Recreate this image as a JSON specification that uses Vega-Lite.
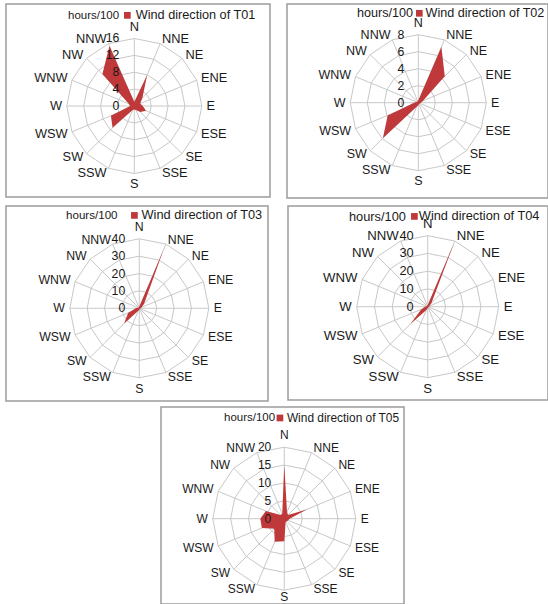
{
"$schema":"https://vega.github.io/schema/vega-lite/v6.json",
"padding":{"left":5,"top":3,"right":0,"bottom":0},
"config":{"font":"Liberation Sans","view":{"stroke":"#9c9c9c","strokeWidth":1.5},"text":{"color":"#1a1a1a","fontSize":12.5},
"legend":{"symbolType":"square","symbolSize":45,"padding":0,"labelColor":"#1a1a1a","titleColor":"#1a1a1a","titleFontWeight":"normal","labelOffset":1,"symbolStrokeWidth":0}},
"datasets":{
"wind":[
{"station":"T01","dir":"N","hours":1},{"station":"T01","dir":"NNE","hours":7.9},{"station":"T01","dir":"NE","hours":2.7},{"station":"T01","dir":"ENE","hours":1.5},{"station":"T01","dir":"E","hours":2},{"station":"T01","dir":"ESE","hours":3},{"station":"T01","dir":"SE","hours":2},{"station":"T01","dir":"SSE","hours":1},{"station":"T01","dir":"S","hours":0.8},{"station":"T01","dir":"SSW","hours":1},{"station":"T01","dir":"SW","hours":7.3},{"station":"T01","dir":"WSW","hours":6},{"station":"T01","dir":"W","hours":1},{"station":"T01","dir":"WNW","hours":1.5},{"station":"T01","dir":"NW","hours":10.7},{"station":"T01","dir":"NNW","hours":15.4},
{"station":"T02","dir":"N","hours":0.3},{"station":"T02","dir":"NNE","hours":7.1},{"station":"T02","dir":"NE","hours":4.4},{"station":"T02","dir":"ENE","hours":0.6},{"station":"T02","dir":"E","hours":0.3},{"station":"T02","dir":"ESE","hours":0.2},{"station":"T02","dir":"SE","hours":0.2},{"station":"T02","dir":"SSE","hours":0.2},{"station":"T02","dir":"S","hours":0.3},{"station":"T02","dir":"SSW","hours":0.5},{"station":"T02","dir":"SW","hours":5.9},{"station":"T02","dir":"WSW","hours":3.9},{"station":"T02","dir":"W","hours":0.5},{"station":"T02","dir":"WNW","hours":0.2},{"station":"T02","dir":"NW","hours":0.2},{"station":"T02","dir":"NNW","hours":0.2},
{"station":"T03","dir":"N","hours":1},{"station":"T03","dir":"NNE","hours":36},{"station":"T03","dir":"NE","hours":4},{"station":"T03","dir":"ENE","hours":1.5},{"station":"T03","dir":"E","hours":0.8},{"station":"T03","dir":"ESE","hours":0.5},{"station":"T03","dir":"SE","hours":0.5},{"station":"T03","dir":"SSE","hours":0.5},{"station":"T03","dir":"S","hours":0.8},{"station":"T03","dir":"SSW","hours":1.5},{"station":"T03","dir":"SW","hours":12.3},{"station":"T03","dir":"WSW","hours":7},{"station":"T03","dir":"W","hours":2},{"station":"T03","dir":"WNW","hours":0.8},{"station":"T03","dir":"NW","hours":0.5},{"station":"T03","dir":"NNW","hours":0.8},
{"station":"T04","dir":"N","hours":1},{"station":"T04","dir":"NNE","hours":38},{"station":"T04","dir":"NE","hours":3},{"station":"T04","dir":"ENE","hours":1},{"station":"T04","dir":"E","hours":0.8},{"station":"T04","dir":"ESE","hours":0.5},{"station":"T04","dir":"SE","hours":0.5},{"station":"T04","dir":"SSE","hours":0.5},{"station":"T04","dir":"S","hours":0.8},{"station":"T04","dir":"SSW","hours":2},{"station":"T04","dir":"SW","hours":13.8},{"station":"T04","dir":"WSW","hours":4},{"station":"T04","dir":"W","hours":1.5},{"station":"T04","dir":"WNW","hours":0.8},{"station":"T04","dir":"NW","hours":0.5},{"station":"T04","dir":"NNW","hours":0.8},
{"station":"T05","dir":"N","hours":15},{"station":"T05","dir":"NNE","hours":2},{"station":"T05","dir":"NE","hours":1.5},{"station":"T05","dir":"ENE","hours":6.8},{"station":"T05","dir":"E","hours":1.5},{"station":"T05","dir":"ESE","hours":1.2},{"station":"T05","dir":"SE","hours":1},{"station":"T05","dir":"SSE","hours":1},{"station":"T05","dir":"S","hours":6.3},{"station":"T05","dir":"SSW","hours":7},{"station":"T05","dir":"SW","hours":4},{"station":"T05","dir":"WSW","hours":6.8},{"station":"T05","dir":"W","hours":6.7},{"station":"T05","dir":"WNW","hours":5.6},{"station":"T05","dir":"NW","hours":1.5},{"station":"T05","dir":"NNW","hours":1.5}
],
"axes":[
{"station":"T01","series":"Wind direction of T01","max":16,"ticks":[4,8,12,16],"labels":[0,4,8,12,16]},
{"station":"T02","series":"Wind direction of T02","max":8,"ticks":[2,4,6,8],"labels":[0,2,4,6,8]},
{"station":"T03","series":"Wind direction of T03","max":40,"ticks":[10,20,30,40],"labels":[0,10,20,30,40]},
{"station":"T04","series":"Wind direction of T04","max":40,"ticks":[10,20,30,40],"labels":[0,10,20,30,40]},
{"station":"T05","series":"Wind direction of T05","max":20,"ticks":[5,10,15,20],"labels":[0,5,10,15,20]}
]
},
"vconcat":[
{"vconcat":[
{"hconcat":[
{"width":264,"height":193,"data":{"name":"wind"},
"encoding":{"x":{"field":"px","type":"quantitative","scale":{"domain":[-1.901,2.01],"nice":false,"zero":false},"axis":null},"y":{"field":"py","type":"quantitative","scale":{"domain":[-1.348,1.511],"nice":false,"zero":false},"axis":null}},
"layer":[
{"transform":[{"filter":"datum.station=='T01'"},{"calculate":"indexof(['N','NNE','NE','ENE','E','ESE','SE','SSE','S','SSW','SW','WSW','W','WNW','NW','NNW'],datum.dir)","as":"idx"},{"calculate":"sin(datum.idx*PI/8)","as":"px"},{"calculate":"cos(datum.idx*PI/8)","as":"py"}],"mark":{"type":"rule","stroke":"#c8c8c8","strokeWidth":1},"encoding":{"x2":{"datum":0},"y2":{"datum":0}}},
{"transform":[{"filter":"datum.station=='T01'"},{"calculate":"indexof(['N','NNE','NE','ENE','E','ESE','SE','SSE','S','SSW','SW','WSW','W','WNW','NW','NNW'],datum.dir)","as":"idx"},{"lookup":"station","from":{"data":{"name":"axes"},"key":"station","fields":["max","ticks","series"]}},{"flatten":["ticks"]},{"calculate":"datum.ticks/datum.max*sin(datum.idx*PI/8)","as":"px"},{"calculate":"datum.ticks/datum.max*cos(datum.idx*PI/8)","as":"py"}],"mark":{"type":"line","interpolate":"linear-closed","stroke":"#c8c8c8","strokeWidth":1},"encoding":{"detail":{"field":"ticks","type":"nominal"},"order":{"field":"idx","type":"quantitative"}}},
{"transform":[{"filter":"datum.station=='T01'"},{"calculate":"indexof(['N','NNE','NE','ENE','E','ESE','SE','SSE','S','SSW','SW','WSW','W','WNW','NW','NNW'],datum.dir)","as":"idx"},{"lookup":"station","from":{"data":{"name":"axes"},"key":"station","fields":["max","ticks","series"]}},{"calculate":"datum.hours/datum.max*sin(datum.idx*PI/8)","as":"px"},{"calculate":"datum.hours/datum.max*cos(datum.idx*PI/8)","as":"py"}],"mark":{"type":"line","interpolate":"linear-closed","filled":true,"strokeWidth":0},"encoding":{"order":{"field":"idx","type":"quantitative"},"color":{"field":"series","type":"nominal","scale":{"range":["#c0393a"]},"legend":{"orient":"none","legendX":62,"legendY":5,"title":"hours/100","titleOrient":"left","titlePadding":1,"labelOffset":2,"titleFontSize":11.5,"labelFontSize":12.7}}}},
{"transform":[{"filter":"datum.station=='T01'"},{"calculate":"indexof(['N','NNE','NE','ENE','E','ESE','SE','SSE','S','SSW','SW','WSW','W','WNW','NW','NNW'],datum.dir)","as":"idx"},{"filter":"datum.idx>=1 && datum.idx<=7"},{"calculate":"1.07*sin(datum.idx*PI/8)","as":"px"},{"calculate":"1.07*cos(datum.idx*PI/8)","as":"py"}],"mark":{"type":"text","align":"left","baseline":"middle","fontSize":12.8},"encoding":{"text":{"field":"dir"}}},
{"transform":[{"filter":"datum.station=='T01'"},{"calculate":"indexof(['N','NNE','NE','ENE','E','ESE','SE','SSE','S','SSW','SW','WSW','W','WNW','NW','NNW'],datum.dir)","as":"idx"},{"filter":"datum.idx>=9"},{"calculate":"1.07*sin(datum.idx*PI/8)","as":"px"},{"calculate":"1.07*cos(datum.idx*PI/8)","as":"py"}],"mark":{"type":"text","align":"right","baseline":"middle","fontSize":12.8},"encoding":{"text":{"field":"dir"}}},
{"transform":[{"filter":"datum.station=='T01'"},{"calculate":"indexof(['N','NNE','NE','ENE','E','ESE','SE','SSE','S','SSW','SW','WSW','W','WNW','NW','NNW'],datum.dir)","as":"idx"},{"filter":"datum.idx==0"},{"calculate":"0","as":"px"},{"calculate":"1.07","as":"py"}],"mark":{"type":"text","align":"center","baseline":"bottom","fontSize":12.8},"encoding":{"text":{"field":"dir"}}},
{"transform":[{"filter":"datum.station=='T01'"},{"calculate":"indexof(['N','NNE','NE','ENE','E','ESE','SE','SSE','S','SSW','SW','WSW','W','WNW','NW','NNW'],datum.dir)","as":"idx"},{"filter":"datum.idx==8"},{"calculate":"0","as":"px"},{"calculate":"-1.07","as":"py"}],"mark":{"type":"text","align":"center","baseline":"top","fontSize":12.8},"encoding":{"text":{"field":"dir"}}},
{"transform":[{"filter":"datum.station=='T01' && datum.dir=='N'"},{"lookup":"station","from":{"data":{"name":"axes"},"key":"station","fields":["max","labels"]}},{"flatten":["labels"]},{"calculate":"0","as":"px"},{"calculate":"datum.labels/datum.max","as":"py"}],"mark":{"type":"text","align":"right","baseline":"middle","dx":-15,"fontSize":12.3},"encoding":{"text":{"field":"labels","type":"nominal"}}}
]},
{"width":261,"height":194,"data":{"name":"wind"},
"encoding":{"x":{"field":"px","type":"quantitative","scale":{"domain":[-1.931,1.907],"nice":false,"zero":false},"axis":null},"y":{"field":"py","type":"quantitative","scale":{"domain":[-1.401,1.451],"nice":false,"zero":false},"axis":null}},
"layer":[
{"transform":[{"filter":"datum.station=='T02'"},{"calculate":"indexof(['N','NNE','NE','ENE','E','ESE','SE','SSE','S','SSW','SW','WSW','W','WNW','NW','NNW'],datum.dir)","as":"idx"},{"calculate":"sin(datum.idx*PI/8)","as":"px"},{"calculate":"cos(datum.idx*PI/8)","as":"py"}],"mark":{"type":"rule","stroke":"#c8c8c8","strokeWidth":1},"encoding":{"x2":{"datum":0},"y2":{"datum":0}}},
{"transform":[{"filter":"datum.station=='T02'"},{"calculate":"indexof(['N','NNE','NE','ENE','E','ESE','SE','SSE','S','SSW','SW','WSW','W','WNW','NW','NNW'],datum.dir)","as":"idx"},{"lookup":"station","from":{"data":{"name":"axes"},"key":"station","fields":["max","ticks","series"]}},{"flatten":["ticks"]},{"calculate":"datum.ticks/datum.max*sin(datum.idx*PI/8)","as":"px"},{"calculate":"datum.ticks/datum.max*cos(datum.idx*PI/8)","as":"py"}],"mark":{"type":"line","interpolate":"linear-closed","stroke":"#c8c8c8","strokeWidth":1},"encoding":{"detail":{"field":"ticks","type":"nominal"},"order":{"field":"idx","type":"quantitative"}}},
{"transform":[{"filter":"datum.station=='T02'"},{"calculate":"indexof(['N','NNE','NE','ENE','E','ESE','SE','SSE','S','SSW','SW','WSW','W','WNW','NW','NNW'],datum.dir)","as":"idx"},{"lookup":"station","from":{"data":{"name":"axes"},"key":"station","fields":["max","ticks","series"]}},{"calculate":"datum.hours/datum.max*sin(datum.idx*PI/8)","as":"px"},{"calculate":"datum.hours/datum.max*cos(datum.idx*PI/8)","as":"py"}],"mark":{"type":"line","interpolate":"linear-closed","filled":true,"strokeWidth":0},"encoding":{"order":{"field":"idx","type":"quantitative"},"color":{"field":"series","type":"nominal","scale":{"range":["#c0393a"]},"legend":{"orient":"none","legendX":70,"legendY":3,"title":"hours/100","titleOrient":"left","titlePadding":-1,"labelOffset":0,"titleFontSize":12.6,"labelFontSize":12.6}}}},
{"transform":[{"filter":"datum.station=='T02'"},{"calculate":"indexof(['N','NNE','NE','ENE','E','ESE','SE','SSE','S','SSW','SW','WSW','W','WNW','NW','NNW'],datum.dir)","as":"idx"},{"filter":"datum.idx>=1 && datum.idx<=7"},{"calculate":"1.07*sin(datum.idx*PI/8)","as":"px"},{"calculate":"1.07*cos(datum.idx*PI/8)","as":"py"}],"mark":{"type":"text","align":"left","baseline":"middle","fontSize":12.5},"encoding":{"text":{"field":"dir"}}},
{"transform":[{"filter":"datum.station=='T02'"},{"calculate":"indexof(['N','NNE','NE','ENE','E','ESE','SE','SSE','S','SSW','SW','WSW','W','WNW','NW','NNW'],datum.dir)","as":"idx"},{"filter":"datum.idx>=9"},{"calculate":"1.07*sin(datum.idx*PI/8)","as":"px"},{"calculate":"1.07*cos(datum.idx*PI/8)","as":"py"}],"mark":{"type":"text","align":"right","baseline":"middle","fontSize":12.5},"encoding":{"text":{"field":"dir"}}},
{"transform":[{"filter":"datum.station=='T02'"},{"calculate":"indexof(['N','NNE','NE','ENE','E','ESE','SE','SSE','S','SSW','SW','WSW','W','WNW','NW','NNW'],datum.dir)","as":"idx"},{"filter":"datum.idx==0"},{"calculate":"0","as":"px"},{"calculate":"1.07","as":"py"}],"mark":{"type":"text","align":"center","baseline":"bottom","fontSize":12.5},"encoding":{"text":{"field":"dir"}}},
{"transform":[{"filter":"datum.station=='T02'"},{"calculate":"indexof(['N','NNE','NE','ENE','E','ESE','SE','SSE','S','SSW','SW','WSW','W','WNW','NW','NNW'],datum.dir)","as":"idx"},{"filter":"datum.idx==8"},{"calculate":"0","as":"px"},{"calculate":"-1.07","as":"py"}],"mark":{"type":"text","align":"center","baseline":"top","fontSize":12.5},"encoding":{"text":{"field":"dir"}}},
{"transform":[{"filter":"datum.station=='T02' && datum.dir=='N'"},{"lookup":"station","from":{"data":{"name":"axes"},"key":"station","fields":["max","labels"]}},{"flatten":["labels"]},{"calculate":"0","as":"px"},{"calculate":"datum.labels/datum.max","as":"py"}],"mark":{"type":"text","align":"right","baseline":"middle","dx":-14,"fontSize":12.3},"encoding":{"text":{"field":"labels","type":"nominal"}}}
]}
],"spacing":17,"bounds":"flush","resolve":{"scale":{"color":"independent"},"legend":{"color":"independent"}}},
{"hconcat":[
{"width":262,"height":195,"data":{"name":"wind"},
"encoding":{"x":{"field":"px","type":"quantitative","scale":{"domain":[-1.918,1.852],"nice":false,"zero":false},"axis":null},"y":{"field":"py","type":"quantitative","scale":{"domain":[-1.334,1.472],"nice":false,"zero":false},"axis":null}},
"layer":[
{"transform":[{"filter":"datum.station=='T03'"},{"calculate":"indexof(['N','NNE','NE','ENE','E','ESE','SE','SSE','S','SSW','SW','WSW','W','WNW','NW','NNW'],datum.dir)","as":"idx"},{"calculate":"sin(datum.idx*PI/8)","as":"px"},{"calculate":"cos(datum.idx*PI/8)","as":"py"}],"mark":{"type":"rule","stroke":"#c8c8c8","strokeWidth":1},"encoding":{"x2":{"datum":0},"y2":{"datum":0}}},
{"transform":[{"filter":"datum.station=='T03'"},{"calculate":"indexof(['N','NNE','NE','ENE','E','ESE','SE','SSE','S','SSW','SW','WSW','W','WNW','NW','NNW'],datum.dir)","as":"idx"},{"lookup":"station","from":{"data":{"name":"axes"},"key":"station","fields":["max","ticks","series"]}},{"flatten":["ticks"]},{"calculate":"datum.ticks/datum.max*sin(datum.idx*PI/8)","as":"px"},{"calculate":"datum.ticks/datum.max*cos(datum.idx*PI/8)","as":"py"}],"mark":{"type":"line","interpolate":"linear-closed","stroke":"#c8c8c8","strokeWidth":1},"encoding":{"detail":{"field":"ticks","type":"nominal"},"order":{"field":"idx","type":"quantitative"}}},
{"transform":[{"filter":"datum.station=='T03'"},{"calculate":"indexof(['N','NNE','NE','ENE','E','ESE','SE','SSE','S','SSW','SW','WSW','W','WNW','NW','NNW'],datum.dir)","as":"idx"},{"lookup":"station","from":{"data":{"name":"axes"},"key":"station","fields":["max","ticks","series"]}},{"calculate":"datum.hours/datum.max*sin(datum.idx*PI/8)","as":"px"},{"calculate":"datum.hours/datum.max*cos(datum.idx*PI/8)","as":"py"}],"mark":{"type":"line","interpolate":"linear-closed","filled":true,"strokeWidth":0},"encoding":{"order":{"field":"idx","type":"quantitative"},"color":{"field":"series","type":"nominal","scale":{"range":["#c0393a"]},"legend":{"orient":"none","legendX":60,"legendY":3,"title":"hours/100","titleOrient":"left","titlePadding":10,"labelOffset":0.7,"titleFontSize":11.6,"labelFontSize":12.8}}}},
{"transform":[{"filter":"datum.station=='T03'"},{"calculate":"indexof(['N','NNE','NE','ENE','E','ESE','SE','SSE','S','SSW','SW','WSW','W','WNW','NW','NNW'],datum.dir)","as":"idx"},{"filter":"datum.idx>=1 && datum.idx<=7"},{"calculate":"1.07*sin(datum.idx*PI/8)","as":"px"},{"calculate":"1.07*cos(datum.idx*PI/8)","as":"py"}],"mark":{"type":"text","align":"left","baseline":"middle","fontSize":12.3},"encoding":{"text":{"field":"dir"}}},
{"transform":[{"filter":"datum.station=='T03'"},{"calculate":"indexof(['N','NNE','NE','ENE','E','ESE','SE','SSE','S','SSW','SW','WSW','W','WNW','NW','NNW'],datum.dir)","as":"idx"},{"filter":"datum.idx>=9"},{"calculate":"1.07*sin(datum.idx*PI/8)","as":"px"},{"calculate":"1.07*cos(datum.idx*PI/8)","as":"py"}],"mark":{"type":"text","align":"right","baseline":"middle","fontSize":12.3},"encoding":{"text":{"field":"dir"}}},
{"transform":[{"filter":"datum.station=='T03'"},{"calculate":"indexof(['N','NNE','NE','ENE','E','ESE','SE','SSE','S','SSW','SW','WSW','W','WNW','NW','NNW'],datum.dir)","as":"idx"},{"filter":"datum.idx==0"},{"calculate":"0","as":"px"},{"calculate":"1.07","as":"py"}],"mark":{"type":"text","align":"center","baseline":"bottom","fontSize":12.3},"encoding":{"text":{"field":"dir"}}},
{"transform":[{"filter":"datum.station=='T03'"},{"calculate":"indexof(['N','NNE','NE','ENE','E','ESE','SE','SSE','S','SSW','SW','WSW','W','WNW','NW','NNW'],datum.dir)","as":"idx"},{"filter":"datum.idx==8"},{"calculate":"0","as":"px"},{"calculate":"-1.07","as":"py"}],"mark":{"type":"text","align":"center","baseline":"top","fontSize":12.3},"encoding":{"text":{"field":"dir"}}},
{"transform":[{"filter":"datum.station=='T03' && datum.dir=='N'"},{"lookup":"station","from":{"data":{"name":"axes"},"key":"station","fields":["max","labels"]}},{"flatten":["labels"]},{"calculate":"0","as":"px"},{"calculate":"datum.labels/datum.max","as":"py"}],"mark":{"type":"text","align":"right","baseline":"middle","dx":-14,"fontSize":12.3},"encoding":{"text":{"field":"labels","type":"nominal"}}}
]},
{"width":260,"height":194,"data":{"name":"wind"},
"encoding":{"x":{"field":"px","type":"quantitative","scale":{"domain":[-1.968,1.694],"nice":false,"zero":false},"axis":null},"y":{"field":"py","type":"quantitative","scale":{"domain":[-1.314,1.418],"nice":false,"zero":false},"axis":null}},
"layer":[
{"transform":[{"filter":"datum.station=='T04'"},{"calculate":"indexof(['N','NNE','NE','ENE','E','ESE','SE','SSE','S','SSW','SW','WSW','W','WNW','NW','NNW'],datum.dir)","as":"idx"},{"calculate":"sin(datum.idx*PI/8)","as":"px"},{"calculate":"cos(datum.idx*PI/8)","as":"py"}],"mark":{"type":"rule","stroke":"#c8c8c8","strokeWidth":1},"encoding":{"x2":{"datum":0},"y2":{"datum":0}}},
{"transform":[{"filter":"datum.station=='T04'"},{"calculate":"indexof(['N','NNE','NE','ENE','E','ESE','SE','SSE','S','SSW','SW','WSW','W','WNW','NW','NNW'],datum.dir)","as":"idx"},{"lookup":"station","from":{"data":{"name":"axes"},"key":"station","fields":["max","ticks","series"]}},{"flatten":["ticks"]},{"calculate":"datum.ticks/datum.max*sin(datum.idx*PI/8)","as":"px"},{"calculate":"datum.ticks/datum.max*cos(datum.idx*PI/8)","as":"py"}],"mark":{"type":"line","interpolate":"linear-closed","stroke":"#c8c8c8","strokeWidth":1},"encoding":{"detail":{"field":"ticks","type":"nominal"},"order":{"field":"idx","type":"quantitative"}}},
{"transform":[{"filter":"datum.station=='T04'"},{"calculate":"indexof(['N','NNE','NE','ENE','E','ESE','SE','SSE','S','SSW','SW','WSW','W','WNW','NW','NNW'],datum.dir)","as":"idx"},{"lookup":"station","from":{"data":{"name":"axes"},"key":"station","fields":["max","ticks","series"]}},{"calculate":"datum.hours/datum.max*sin(datum.idx*PI/8)","as":"px"},{"calculate":"datum.hours/datum.max*cos(datum.idx*PI/8)","as":"py"}],"mark":{"type":"line","interpolate":"linear-closed","filled":true,"strokeWidth":0},"encoding":{"order":{"field":"idx","type":"quantitative"},"color":{"field":"series","type":"nominal","scale":{"range":["#c0393a"]},"legend":{"orient":"none","legendX":61,"legendY":4,"title":"hours/100","titleOrient":"left","titlePadding":2,"labelOffset":-2,"titleFontSize":12.8,"labelFontSize":12.8}}}},
{"transform":[{"filter":"datum.station=='T04'"},{"calculate":"indexof(['N','NNE','NE','ENE','E','ESE','SE','SSE','S','SSW','SW','WSW','W','WNW','NW','NNW'],datum.dir)","as":"idx"},{"filter":"datum.idx>=1 && datum.idx<=7"},{"calculate":"1.07*sin(datum.idx*PI/8)","as":"px"},{"calculate":"1.07*cos(datum.idx*PI/8)","as":"py"}],"mark":{"type":"text","align":"left","baseline":"middle","fontSize":13.2},"encoding":{"text":{"field":"dir"}}},
{"transform":[{"filter":"datum.station=='T04'"},{"calculate":"indexof(['N','NNE','NE','ENE','E','ESE','SE','SSE','S','SSW','SW','WSW','W','WNW','NW','NNW'],datum.dir)","as":"idx"},{"filter":"datum.idx>=9"},{"calculate":"1.07*sin(datum.idx*PI/8)","as":"px"},{"calculate":"1.07*cos(datum.idx*PI/8)","as":"py"}],"mark":{"type":"text","align":"right","baseline":"middle","fontSize":13.2},"encoding":{"text":{"field":"dir"}}},
{"transform":[{"filter":"datum.station=='T04'"},{"calculate":"indexof(['N','NNE','NE','ENE','E','ESE','SE','SSE','S','SSW','SW','WSW','W','WNW','NW','NNW'],datum.dir)","as":"idx"},{"filter":"datum.idx==0"},{"calculate":"0","as":"px"},{"calculate":"1.07","as":"py"}],"mark":{"type":"text","align":"center","baseline":"bottom","fontSize":13.2},"encoding":{"text":{"field":"dir"}}},
{"transform":[{"filter":"datum.station=='T04'"},{"calculate":"indexof(['N','NNE','NE','ENE','E','ESE','SE','SSE','S','SSW','SW','WSW','W','WNW','NW','NNW'],datum.dir)","as":"idx"},{"filter":"datum.idx==8"},{"calculate":"0","as":"px"},{"calculate":"-1.07","as":"py"}],"mark":{"type":"text","align":"center","baseline":"top","fontSize":13.2},"encoding":{"text":{"field":"dir"}}},
{"transform":[{"filter":"datum.station=='T04' && datum.dir=='N'"},{"lookup":"station","from":{"data":{"name":"axes"},"key":"station","fields":["max","labels"]}},{"flatten":["labels"]},{"calculate":"0","as":"px"},{"calculate":"datum.labels/datum.max","as":"py"}],"mark":{"type":"text","align":"right","baseline":"middle","dx":-14,"fontSize":12.8},"encoding":{"text":{"field":"labels","type":"nominal"}}}
]}
],"spacing":20,"bounds":"flush","resolve":{"scale":{"color":"independent"},"legend":{"color":"independent"}}}
],"spacing":6,"resolve":{"scale":{"color":"independent"},"legend":{"color":"independent"}}},
{"hconcat":[
{"width":155,"height":20,"data":{"values":[{"v":0}]},"mark":{"type":"point","opacity":0},"view":{"stroke":null}},
{"width":243,"height":197,"data":{"name":"wind"},
"encoding":{"x":{"field":"px","type":"quantitative","scale":{"domain":[-1.724,1.674],"nice":false,"zero":false},"axis":null},"y":{"field":"py","type":"quantitative","scale":{"domain":[-1.193,1.562],"nice":false,"zero":false},"axis":null}},
"layer":[
{"transform":[{"filter":"datum.station=='T05'"},{"calculate":"indexof(['N','NNE','NE','ENE','E','ESE','SE','SSE','S','SSW','SW','WSW','W','WNW','NW','NNW'],datum.dir)","as":"idx"},{"calculate":"sin(datum.idx*PI/8)","as":"px"},{"calculate":"cos(datum.idx*PI/8)","as":"py"}],"mark":{"type":"rule","stroke":"#c8c8c8","strokeWidth":1},"encoding":{"x2":{"datum":0},"y2":{"datum":0}}},
{"transform":[{"filter":"datum.station=='T05'"},{"calculate":"indexof(['N','NNE','NE','ENE','E','ESE','SE','SSE','S','SSW','SW','WSW','W','WNW','NW','NNW'],datum.dir)","as":"idx"},{"lookup":"station","from":{"data":{"name":"axes"},"key":"station","fields":["max","ticks","series"]}},{"flatten":["ticks"]},{"calculate":"datum.ticks/datum.max*sin(datum.idx*PI/8)","as":"px"},{"calculate":"datum.ticks/datum.max*cos(datum.idx*PI/8)","as":"py"}],"mark":{"type":"line","interpolate":"linear-closed","stroke":"#c8c8c8","strokeWidth":1},"encoding":{"detail":{"field":"ticks","type":"nominal"},"order":{"field":"idx","type":"quantitative"}}},
{"transform":[{"filter":"datum.station=='T05'"},{"calculate":"indexof(['N','NNE','NE','ENE','E','ESE','SE','SSE','S','SSW','SW','WSW','W','WNW','NW','NNW'],datum.dir)","as":"idx"},{"lookup":"station","from":{"data":{"name":"axes"},"key":"station","fields":["max","ticks","series"]}},{"calculate":"datum.hours/datum.max*sin(datum.idx*PI/8)","as":"px"},{"calculate":"datum.hours/datum.max*cos(datum.idx*PI/8)","as":"py"}],"mark":{"type":"line","interpolate":"linear-closed","filled":true,"strokeWidth":0},"encoding":{"order":{"field":"idx","type":"quantitative"},"color":{"field":"series","type":"nominal","scale":{"range":["#c0393a"]},"legend":{"orient":"none","legendX":63,"legendY":5,"title":"hours/100","titleOrient":"left","titlePadding":-2,"labelOffset":1,"titleFontSize":11.5,"labelFontSize":11.9}}}},
{"transform":[{"filter":"datum.station=='T05'"},{"calculate":"indexof(['N','NNE','NE','ENE','E','ESE','SE','SSE','S','SSW','SW','WSW','W','WNW','NW','NNW'],datum.dir)","as":"idx"},{"filter":"datum.idx>=1 && datum.idx<=7"},{"calculate":"1.07*sin(datum.idx*PI/8)","as":"px"},{"calculate":"1.07*cos(datum.idx*PI/8)","as":"py"}],"mark":{"type":"text","align":"left","baseline":"middle","fontSize":12},"encoding":{"text":{"field":"dir"}}},
{"transform":[{"filter":"datum.station=='T05'"},{"calculate":"indexof(['N','NNE','NE','ENE','E','ESE','SE','SSE','S','SSW','SW','WSW','W','WNW','NW','NNW'],datum.dir)","as":"idx"},{"filter":"datum.idx>=9"},{"calculate":"1.07*sin(datum.idx*PI/8)","as":"px"},{"calculate":"1.07*cos(datum.idx*PI/8)","as":"py"}],"mark":{"type":"text","align":"right","baseline":"middle","fontSize":12},"encoding":{"text":{"field":"dir"}}},
{"transform":[{"filter":"datum.station=='T05'"},{"calculate":"indexof(['N','NNE','NE','ENE','E','ESE','SE','SSE','S','SSW','SW','WSW','W','WNW','NW','NNW'],datum.dir)","as":"idx"},{"filter":"datum.idx==0"},{"calculate":"0","as":"px"},{"calculate":"1.07","as":"py"}],"mark":{"type":"text","align":"center","baseline":"bottom","fontSize":12},"encoding":{"text":{"field":"dir"}}},
{"transform":[{"filter":"datum.station=='T05'"},{"calculate":"indexof(['N','NNE','NE','ENE','E','ESE','SE','SSE','S','SSW','SW','WSW','W','WNW','NW','NNW'],datum.dir)","as":"idx"},{"filter":"datum.idx==8"},{"calculate":"0","as":"px"},{"calculate":"-1.03","as":"py"}],"mark":{"type":"text","align":"center","baseline":"top","fontSize":12},"encoding":{"text":{"field":"dir"}}},
{"transform":[{"filter":"datum.station=='T05' && datum.dir=='N'"},{"lookup":"station","from":{"data":{"name":"axes"},"key":"station","fields":["max","labels"]}},{"flatten":["labels"]},{"calculate":"0","as":"px"},{"calculate":"datum.labels/datum.max","as":"py"}],"mark":{"type":"text","align":"right","baseline":"middle","dx":-13,"fontSize":12},"encoding":{"text":{"field":"labels","type":"nominal"}}}
]}
],"spacing":0,"bounds":"flush","resolve":{"scale":{"color":"independent"},"legend":{"color":"independent"}}}
],
"spacing":4,"resolve":{"scale":{"color":"independent"},"legend":{"color":"independent"}}
}
